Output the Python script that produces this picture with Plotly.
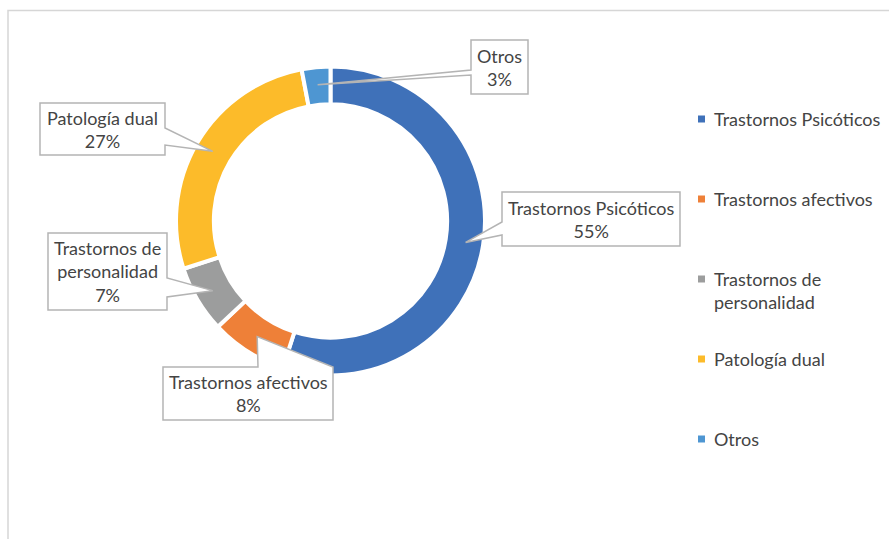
import math
import plotly.graph_objects as go

# Distribution of diagnoses
categories = ["Trastornos Psicóticos", "Trastornos afectivos", "Trastornos de personalidad",
              "Patología dual", "Otros"]
values = [55, 8, 7, 27, 3]
colors = ["#3F71B9", "#EE8038", "#9C9D9D", "#FCBB2A", "#4E96D2"]

W, H = 889, 539
FONT = "Lato"
FONT_SIZE = 18
TEXT_COLOR = "#444444"
BOX_COLOR = "#B4B4B4"

# donut geometry in page pixels
cx, cy, R = 330.5, 221.0, 152.0
R_DOMAIN = R + 2.5          # slice outlines eat into the outer edge
HOLE = 0.755
TIP_R = 0.9 * R

# callout boxes: (left, top, right, bottom), side of the pointer, base span along that side
callouts = [
    dict(box=(502, 192, 680, 246), side="left", base=(222, 235)),
    dict(box=(163, 367, 333, 420), side="top", base=(258, 333)),
    dict(box=(48, 233, 167, 310), side="right", base=(278, 297)),
    dict(box=(40, 103, 165, 155), side="right", base=(128, 145)),
    dict(box=(471, 40, 528, 94), side="left", base=(70, 75)),
]

# legend placement
LEG_MARK_X, LEG_TEXT_X = 698, 712
LEG_TOP, LEG_STEP, MARK = 119, 80, 7


def fx(x):
    return x / W


def fy(y):
    return 1 - y / H


def wrap(label, limit=22, first=14):
    if len(label) <= limit:
        return label
    cut = label.rfind(" ", 0, first + 1)
    return label[:cut] + "<br>" + label[cut + 1:]


total = sum(values)

fig = go.Figure(go.Pie(
    labels=categories,
    values=values,
    sort=False,
    direction="clockwise",
    rotation=0,
    hole=HOLE,
    marker=dict(colors=colors, line=dict(color="white", width=4)),
    textinfo="none",
    showlegend=False,
    domain=dict(x=[fx(cx - R_DOMAIN), fx(cx + R_DOMAIN)],
                y=[fy(cy + R_DOMAIN), fy(cy - R_DOMAIN)]),
))

shapes = []
annotations = []

# outer chart border (left and top edges visible)
shapes.append(dict(type="rect", xref="paper", yref="paper",
                   x0=fx(8), x1=fx(W + 20), y0=fy(H + 20), y1=fy(10.5),
                   line=dict(color="#D6D6D6", width=1.5), fillcolor="rgba(0,0,0,0)"))

cum = 0
for i, (name, v) in enumerate(zip(categories, values)):
    ang = math.radians(360 * (cum + v / 2) / total)
    cum += v
    tx = cx + TIP_R * math.sin(ang)
    ty = cy - TIP_R * math.cos(ang)

    c = callouts[i]
    l, t, r, b = c["box"]
    b0, b1 = c["base"]
    # clockwise outline starting from top-left corner, pointer inserted on its side
    pts = [(l, t)]
    if c["side"] == "top":
        pts += [(b0, t), (tx, ty), (b1, t)]
    pts.append((r, t))
    if c["side"] == "right":
        pts += [(r, b0), (tx, ty), (r, b1)]
    pts.append((r, b))
    pts.append((l, b))
    if c["side"] == "left":
        pts += [(l, b1), (tx, ty), (l, b0)]
    path = "M " + " L ".join(f"{fx(x):.5f},{fy(y):.5f}" for x, y in pts) + " Z"
    shapes.append(dict(type="path", xref="paper", yref="paper", path=path,
                       fillcolor="white", line=dict(color=BOX_COLOR, width=1.5)))

    pct = round(100 * v / total)
    annotations.append(dict(
        xref="paper", yref="paper", x=fx((l + r) / 2), y=fy((t + b) / 2),
        xanchor="center", yanchor="middle", showarrow=False, align="center",
        text=f"{wrap(name)}<br>{pct}%",
        font=dict(family=FONT, size=FONT_SIZE, color=TEXT_COLOR),
    ))

    # legend entry
    ly = LEG_TOP + i * LEG_STEP
    shapes.append(dict(type="rect", xref="paper", yref="paper",
                       x0=fx(LEG_MARK_X), x1=fx(LEG_MARK_X + MARK),
                       y0=fy(ly + MARK / 2), y1=fy(ly - MARK / 2),
                       fillcolor=colors[i], line=dict(width=0)))
    annotations.append(dict(
        xref="paper", yref="paper", x=fx(LEG_TEXT_X), y=fy(ly - 13),
        xanchor="left", yanchor="top", showarrow=False, align="left",
        text=wrap(name), font=dict(family=FONT, size=FONT_SIZE, color=TEXT_COLOR),
    ))

fig.update_layout(
    width=W, height=H,
    margin=dict(l=0, r=0, t=0, b=0),
    paper_bgcolor="white", plot_bgcolor="white",
    shapes=shapes, annotations=annotations,
)

fig.write_html("out.html")
